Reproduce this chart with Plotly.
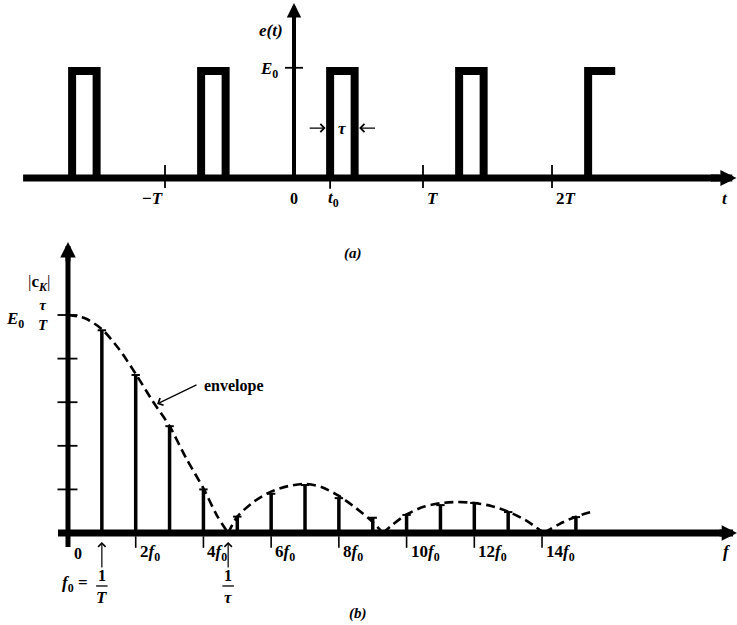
import plotly.graph_objects as go

# ---------------- Panel (a): periodic rectangular pulse train e(t) ----------------
T = 1.0            # period
t0 = 0.28          # start of the pulse after t = 0
tau = 0.19         # pulse width
E0 = 1.0           # pulse height
pulse_index = [-2, -1, 0, 1, 2]
t_view_end = 2.49  # last pulse is cut off in the drawing (no falling edge)
a_tick_pos = [-1.0, 1.0, 2.0]
a_tick_labels = ["−<i>T</i>", "<i>T</i>", "2<i>T</i>"]

# ---------------- Panel (b): line spectrum |c_K| ----------------
harmonic_k = [1, 2, 3, 4, 5, 6, 7, 8, 9, 10, 11, 12, 13, 14, 15]
ck_mag = [0.93, 0.725, 0.49, 0.20, 0.075, 0.18, 0.22, 0.16, 0.07,
          0.083, 0.128, 0.138, 0.096, 0.0, 0.073]
env_lobe1_f = [0, 0.5, 1, 1.5, 2, 2.5, 3, 3.5, 4, 4.4, 4.73]
env_lobe1_v = [1.0, 0.985, 0.935, 0.845, 0.73, 0.605, 0.49, 0.34, 0.205, 0.08, 0.0]
env_lobe2_f = [4.73, 5, 5.5, 6, 6.5, 7, 7.5, 8, 8.5, 9, 9.3]
env_lobe2_v = [0.0, 0.075, 0.145, 0.19, 0.215, 0.225, 0.21, 0.17, 0.115, 0.05, 0.0]
env_lobe3_f = [9.3, 9.6, 10, 10.5, 11, 11.5, 12, 12.5, 13, 13.5, 14.06]
env_lobe3_v = [0.0, 0.04, 0.085, 0.12, 0.137, 0.142, 0.138, 0.124, 0.098, 0.06, 0.0]
env_lobe4_f = [14.06, 14.5, 15, 15.48]
env_lobe4_v = [0.0, 0.04, 0.075, 0.098]
first_zero = 4.73   # 1/tau in units of f0
b_tick_pos = [2, 4, 6, 8, 10, 12, 14]
b_tick_labels = ["2<i>f</i><sub>0</sub>", "4<i>f</i><sub>0</sub>", "6<i>f</i><sub>0</sub>",
                 "8<i>f</i><sub>0</sub>", "10<i>f</i><sub>0</sub>", "12<i>f</i><sub>0</sub>",
                 "14<i>f</i><sub>0</sub>"]
v_ticks = [0.2, 0.4, 0.6, 0.8, 1.0]

FONT = "Liberation Serif"
BLK = "black"

fig = go.Figure()

def seg(xs, ys, width, axis="a", dash=None, shape="linear"):
    xa, ya = ("x", "y") if axis == "a" else ("x2", "y2")
    fig.add_trace(go.Scatter(x=xs, y=ys, mode="lines", xaxis=xa, yaxis=ya,
                             line=dict(color=BLK, width=width, dash=dash, shape=shape,
                                       smoothing=0.8),
                             hoverinfo="skip", showlegend=False))

ann = []

def text(x, y, s, axis="a", size=17, xanchor="center", yanchor="middle"):
    xr, yr = ("x", "y") if axis == "a" else ("x2", "y2")
    ann.append(dict(x=x, y=y, xref=xr, yref=yr, text=s, showarrow=False,
                    xanchor=xanchor, yanchor=yanchor,
                    font=dict(family=FONT, size=size, color=BLK)))

def arrow(x, y, ax, ay, axis="a", width=1.3, head=4, size=1.3):
    xr, yr = ("x", "y") if axis == "a" else ("x2", "y2")
    ann.append(dict(x=x, y=y, xref=xr, yref=yr, ax=ax, ay=ay, axref=xr, ayref=yr,
                    text="", showarrow=True, arrowhead=head, arrowwidth=width,
                    arrowsize=size, arrowcolor=BLK, standoff=0, startstandoff=0,
                    font=dict(size=1)))

# ---- panel (a) axes ----
seg([-2.1, 3.30], [0, 0], 7)
arrow(3.43, 0, 3.22, 0, width=7, head=2, size=0.46)
seg([0, 0], [0, 1.50], 4)
arrow(0, 1.635, 0, 1.45, width=4, head=2, size=0.72)

# pulses
px, py = [], []
for k in pulse_index:
    s = t0 + k * T
    e = s + tau
    if e + 0.05 <= t_view_end:
        px += [s, s, e, e, None]
        py += [0, E0, E0, 0, None]
    else:
        px += [s, s, t_view_end, None]
        py += [0, E0, E0, None]
fig.add_trace(go.Scatter(x=px, y=py, mode="lines", line=dict(color=BLK, width=8),
                         hoverinfo="skip", showlegend=False, connectgaps=False))

# ticks (a)
for tp in a_tick_pos:
    seg([tp, tp], [0.121, -0.093], 1.8)
seg([t0, t0], [0, -0.10], 1.8)
seg([-0.07, 0.07], [E0 + 0.03, E0 + 0.03], 1.8)

# labels (a)
text(-0.07, 1.383, "<b><i>e(t)</i></b>", xanchor="right")
text(-0.11, E0 + 0.01, "<b><i>E</i><sub>0</sub></b>", xanchor="right")
for tp, lab in zip(a_tick_pos, a_tick_labels):
    if tp < 0:
        text(tp, -0.196, "<b>" + lab + "</b>", xanchor="right")
    else:
        text(tp + 0.015, -0.196, "<b>" + lab + "</b>", xanchor="left")
text(0, -0.196, "<b>0</b>", size=16)
text(t0 - 0.03, -0.196, "<b><i>t</i><sub>0</sub></b>", xanchor="left")
text(3.34, -0.196, "<b><i>t</i></b>")
text(t0 + tau / 2, 0.467, "<b><i>τ</i></b>")
arrow(t0 - 0.035, 0.467, t0 - 0.17, 0.467, width=1.2, head=4, size=1.3)
arrow(t0 + tau + 0.035, 0.467, t0 + tau + 0.17, 0.467, width=1.2, head=4, size=1.3)
text(0.457, -0.71, "<b><i>(a)</i></b>", size=15)

# ---- panel (b) axes ----
seg([-0.295, 19.4], [0, 0], 7, axis="b")
arrow(19.76, 0, 19.2, 0, axis="b", width=7, head=2, size=0.44)
seg([0, 0], [-0.064, 1.27], 5, axis="b")
arrow(0, 1.335, 0, 1.24, axis="b", width=5, head=2, size=0.62)
for v in v_ticks:
    seg([-0.31, 0.28], [v, v], 1.8, axis="b")

# spectral lines
lx, ly = [], []
for k, m in zip(harmonic_k, ck_mag):
    if m > 0:
        lx += [k, k, None]
        ly += [0, m, None]
fig.add_trace(go.Scatter(x=lx, y=ly, mode="lines", xaxis="x2", yaxis="y2",
                         line=dict(color=BLK, width=3.5), hoverinfo="skip",
                         showlegend=False))
fig.add_trace(go.Scatter(x=[k for k, m in zip(harmonic_k, ck_mag) if m > 0],
                         y=[m for m in ck_mag if m > 0], mode="markers",
                         xaxis="x2", yaxis="y2",
                         marker=dict(symbol="line-ew", size=6,
                                     line=dict(color=BLK, width=2)),
                         hoverinfo="skip", showlegend=False))

# envelope
for ef, ev in [(env_lobe1_f, env_lobe1_v), (env_lobe2_f, env_lobe2_v),
               (env_lobe3_f, env_lobe3_v), (env_lobe4_f, env_lobe4_v)]:
    seg(ef, ev, 2.6, axis="b", dash="9px,5px", shape="spline")

# ticks (b)
for tp in b_tick_pos:
    seg([tp, tp], [-0.015, -0.068], 1.6, axis="b")

# labels (b)
text(0.118, -0.092, "<b>0</b>", axis="b", size=16, xanchor="left")
for tp, lab in zip(b_tick_pos, b_tick_labels):
    text(tp + 0.06, -0.092, "<b>" + lab + "</b>", axis="b", xanchor="left")
text(19.46, -0.087, "<b><i>f</i></b>", axis="b")
text(-0.856, 1.147, "|<b>c<sub><i>K</i></sub></b>|", axis="b")
text(-1.56, 0.975, "<b><i>E</i><sub>0</sub></b>", axis="b")
text(-0.74, 1.0, "<b><i>τ</i></b><br><b><i>T</i></b>", axis="b", size=15)
text(3.96, 0.674, "<b>envelope</b>", axis="b", size=16, xanchor="left")
arrow(2.63, 0.592, 3.84, 0.683, axis="b", width=1.2, head=4, size=1.3)

# f0 = 1/T and 1/tau
arrow(1, -0.041, 1, -0.165, axis="b", width=1.2, head=4, size=1.2)
arrow(first_zero, -0.041, first_zero, -0.165, axis="b", width=1.2, head=4, size=1.2)
text(0.65, -0.234, "<b><i>f</i><sub>0</sub> =</b>", axis="b", xanchor="right")
for xc, den in [(1, "<b><i>T</i></b>"), (first_zero, "<b><i>τ</i></b>")]:
    text(xc, -0.243, "<b>1</b>", axis="b", size=16, yanchor="bottom")
    seg([xc - 0.17, xc + 0.17], [-0.243, -0.243], 1.3, axis="b")
    text(xc, -0.243, den, axis="b", yanchor="top")
text(8.56, -0.367, "<b><i>(b)</i></b>", axis="b", size=15)

# axis ranges map both panels onto the same page
fig.update_layout(
    width=737, height=625, margin=dict(l=0, r=0, t=0, b=0),
    paper_bgcolor="white", plot_bgcolor="white",
    xaxis=dict(range=[-2.279, 3.434], visible=False, domain=[0, 1]),
    yaxis=dict(range=[-4.1776, 1.6636], visible=False, domain=[0, 1]),
    xaxis2=dict(range=[-2.008, 19.758], visible=False, overlaying="x"),
    yaxis2=dict(range=[-0.422, 2.445], visible=False, overlaying="y"),
    annotations=ann,
    showlegend=False,
)

fig.write_html("out.html", config={"displayModeBar": False},
               post_script="document.body.style.margin='0px';document.body.style.padding='0px';")
